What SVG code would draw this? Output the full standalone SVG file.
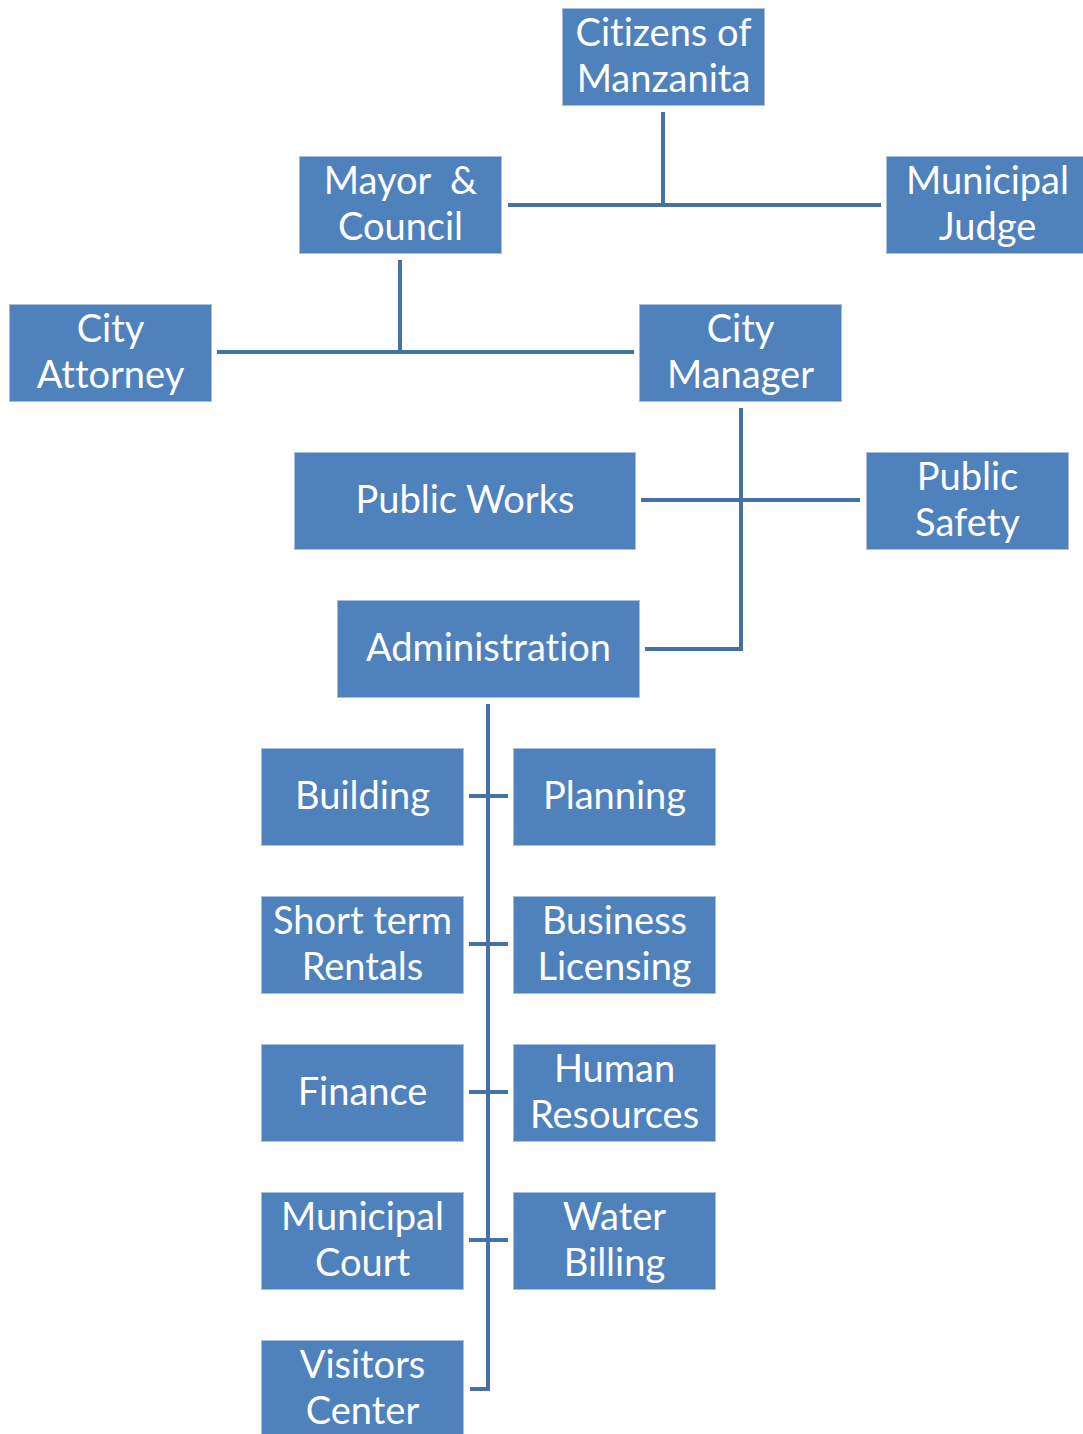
<svg xmlns="http://www.w3.org/2000/svg" width="1083" height="1434" viewBox="0 0 1083 1434">
<style>
.box{fill:#4f81bd;stroke:#a7bfdc;stroke-width:1}
.t{font-family:Lato,"Liberation Sans",sans-serif;font-size:38px;fill:#ffffff;text-anchor:middle;white-space:pre;font-variant-ligatures:none;font-feature-settings:"liga" 0}
.c{stroke:#4670a6;stroke-width:4;fill:none;stroke-linejoin:miter}
</style>
<rect width="1083" height="1434" fill="#ffffff"/>
<g id="connectors">
<path class="c" d="M663,112 V205 M508,205 H881"/>
<path class="c" d="M400,260 V352 M217,352 H634"/>
<path class="c" d="M741,408 V649 H645 M641,500 H860"/>
<path class="c" d="M488,704 V1389 H470 M469,796 H508 M469,944 H508 M469,1092 H508 M469,1240 H508"/>
</g>
<g id="citizens"><rect class="box" x="562.5" y="8.5" width="202" height="97"/><text class="t" x="663.5" y="46">Citizens of</text><text class="t" x="663.5" y="92">Manzanita</text></g>
<g id="mayor"><rect class="box" x="299.5" y="156.5" width="202" height="97"/><text class="t" x="400.5" y="194">Mayor  &amp;</text><text class="t" x="400.5" y="240">Council</text></g>
<g id="judge"><rect class="box" x="886.5" y="156.5" width="202" height="97"/><text class="t" x="987.5" y="194">Municipal</text><text class="t" x="987.5" y="240">Judge</text></g>
<g id="attorney"><rect class="box" x="9.5" y="304.5" width="202" height="97"/><text class="t" x="110.5" y="342">City</text><text class="t" x="110.5" y="388">Attorney</text></g>
<g id="manager"><rect class="box" x="639.5" y="304.5" width="202" height="97"/><text class="t" x="740.5" y="342">City</text><text class="t" x="740.5" y="388">Manager</text></g>
<g id="publicworks"><rect class="box" x="294.5" y="452.5" width="341" height="97"/><text class="t" x="465" y="513">Public Works</text></g>
<g id="publicsafety"><rect class="box" x="866.5" y="452.5" width="202" height="97"/><text class="t" x="967.5" y="490">Public</text><text class="t" x="967.5" y="536">Safety</text></g>
<g id="administration"><rect class="box" x="337.5" y="600.5" width="302" height="97"/><text class="t" x="488.5" y="661">Administration</text></g>
<g id="building"><rect class="box" x="261.5" y="748.5" width="202" height="97"/><text class="t" x="362.5" y="809">Building</text></g>
<g id="planning"><rect class="box" x="513.5" y="748.5" width="202" height="97"/><text class="t" x="614.5" y="809">Planning</text></g>
<g id="shortterm"><rect class="box" x="261.5" y="896.5" width="202" height="97"/><text class="t" x="362.5" y="934">Short term</text><text class="t" x="362.5" y="980">Rentals</text></g>
<g id="business"><rect class="box" x="513.5" y="896.5" width="202" height="97"/><text class="t" x="614.5" y="934">Business</text><text class="t" x="614.5" y="980">Licensing</text></g>
<g id="finance"><rect class="box" x="261.5" y="1044.5" width="202" height="97"/><text class="t" x="362.5" y="1105">Finance</text></g>
<g id="hr"><rect class="box" x="513.5" y="1044.5" width="202" height="97"/><text class="t" x="614.5" y="1082">Human</text><text class="t" x="614.5" y="1128">Resources</text></g>
<g id="court"><rect class="box" x="261.5" y="1192.5" width="202" height="97"/><text class="t" x="362.5" y="1230">Municipal</text><text class="t" x="362.5" y="1276">Court</text></g>
<g id="water"><rect class="box" x="513.5" y="1192.5" width="202" height="97"/><text class="t" x="614.5" y="1230">Water</text><text class="t" x="614.5" y="1276">Billing</text></g>
<g id="visitors"><rect class="box" x="261.5" y="1340.5" width="202" height="97"/><text class="t" x="362.5" y="1378">Visitors</text><text class="t" x="362.5" y="1424">Center</text></g>
</svg>
